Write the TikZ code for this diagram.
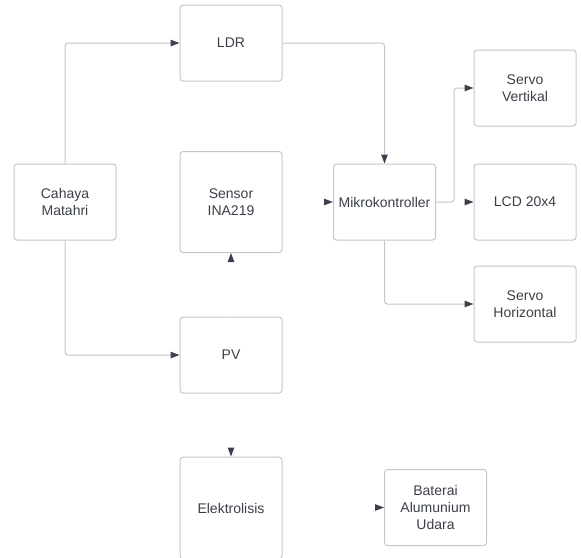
\documentclass[tikz,border=0pt]{standalone}
\usepackage{fontspec}
\setmainfont{Liberation Sans}
\usetikzlibrary{arrows.meta}
\definecolor{garis}{HTML}{C4C6CA}
\definecolor{ujung}{HTML}{3A414C}
\definecolor{teks}{HTML}{3A3F47}
\tikzset{
  blok/.style={draw=garis, line width=1pt, rounded corners=3pt, minimum width=102pt,
    minimum height=76pt, align=center, text=teks, inner sep=2pt,
    font=\fontsize{14}{17}\selectfont},
  alur/.style={draw=garis, line width=1pt, rounded corners=3pt,
    -{Triangle[length=9pt,width=6.5pt,color=ujung]}},
  hilang/.style={alur, draw=white}
}
\begin{document}
\begin{tikzpicture}[x=1pt, y=-1pt]
\useasboundingbox (0,0) rectangle (581,557);
% blok
\foreach \n/\x/\y/\t in {cahaya/65/202/{Cahaya\\Matahri}, ldr/231/43/{LDR}, pv/231/355/{PV},
    mikro/384.5/202/{Mikrokontroller}, sv/525/88/{Servo\\Vertikal}, lcd/525/202/{LCD 20x4},
    sh/525/304/{Servo\\Horizontal}, bat/435.5/507.5/{Baterai\\Alumunium\\Udara}} {
  \node[blok] (\n) at (\x,\y) {\t};
}
\node[blok, minimum height=101pt] (sensor) at (231,202) {Sensor\\INA219};
\node[blok, minimum height=102pt] (elek) at (231,508) {Elektrolisis};
% panah tanpa garis
\draw[hilang] (sensor.east) -- (mikro.west);
\draw[hilang] (mikro.east) -- (lcd.west);
\draw[hilang] (pv.north) -- (sensor.south);
\draw[hilang] (pv.south) -- (elek.north);
\draw[hilang] (elek.east |- bat.west) -- (bat.west);
% panah
\draw[alur] (cahaya.north) |- (ldr.west);
\draw[alur] (cahaya.south) |- (pv.west);
\draw[alur] (ldr.east) -| (mikro.north);
\draw[alur] (mikro.east) -- ++(18,0) |- (sv.west);
\draw[alur] (mikro.south) |- (sh.west);
\end{tikzpicture}
\end{document}
